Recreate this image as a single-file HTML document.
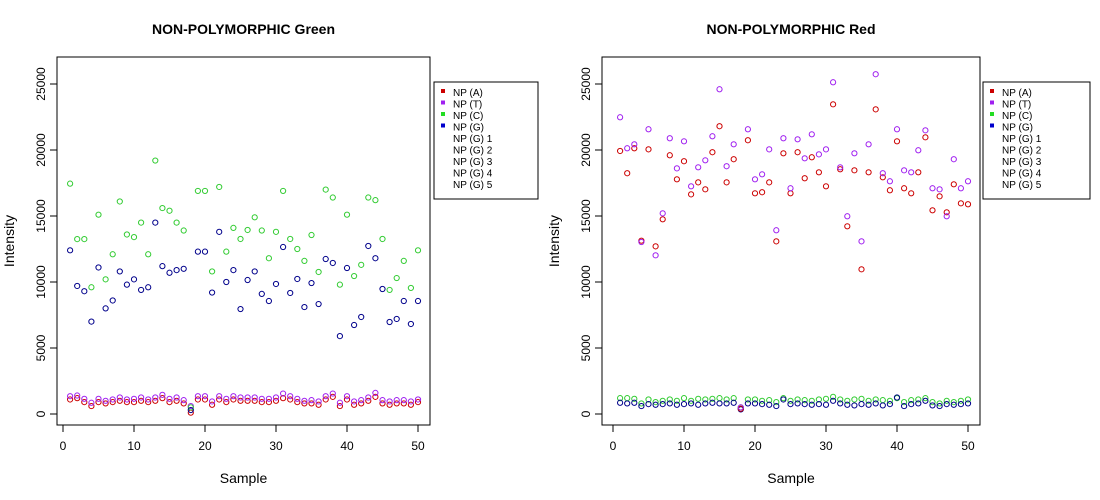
<!DOCTYPE html>
<html><head><meta charset="utf-8">
<style>
body{margin:0;background:#fff;}
svg{display:block;font-family:"Liberation Sans",Arial,sans-serif;}
</style></head>
<body>
<svg id="c" width="1100" height="500" viewBox="0 0 1100 500" xmlns="http://www.w3.org/2000/svg"></svg>
<script>
const samples = Array.from({length:50},(_,i)=>i+1);
const xTicks = [0,10,20,30,40,50];
const yTicks = [0,5000,10000,15000,20000,25000];
const legendLabels = ["NP (A)","NP (T)","NP (C)","NP (G)","NP (G) 1","NP (G) 2","NP (G) 3","NP (G) 4","NP (G) 5"];
const legendColors = ["#cc0000","#a020f0","#22dd22","#0000cc",null,null,null,null,null];

const greenA = [1100,1200,900,600,900,800,900,1000,900,900,1000,900,1000,1200,900,1000,800,100,1100,1100,700,1100,900,1100,1000,1000,1000,900,900,1000,1200,1100,900,800,800,700,1100,1300,600,1100,700,800,1000,1300,800,700,800,800,700,900];
const greenT = [1350,1400,1150,850,1150,1000,1100,1250,1100,1150,1250,1100,1250,1450,1150,1250,1050,600,1350,1350,950,1350,1150,1350,1250,1250,1250,1150,1150,1250,1550,1350,1150,1000,1050,950,1350,1550,850,1350,950,1050,1250,1600,1050,950,1050,1050,950,1100];
const greenC = [17450,13250,13250,9600,15100,10200,12100,16100,13600,13400,14500,12100,19200,15600,15400,14500,13900,500,16900,16900,10800,17200,12300,14100,13260,13940,14900,13900,11800,13800,16900,13260,12500,11600,13560,10760,17000,16400,9800,15100,10450,11300,16400,16200,13260,9400,10300,11600,9550,12400];
const greenG = [12400,9700,9300,7000,11100,8000,8600,10800,9800,10200,9400,9600,14500,11200,10700,10900,11000,300,12300,12300,9200,13800,10000,10900,7950,10150,10800,9100,8560,9850,12650,9170,10230,8100,9920,8330,11740,11440,5900,11060,6740,7350,12730,11800,9470,6970,7200,8560,6820,8560];

const redA = [19925,18240,20130,13130,20050,12700,14750,19600,17780,19150,16640,17550,17020,19830,21800,17550,19300,400,20740,16720,16800,17550,13080,19750,16720,19830,17860,19450,18310,17250,23460,18540,14220,18460,10960,18310,23080,17930,16950,20660,17100,16720,18310,20960,15430,16490,15280,17400,15960,15890];
const redT = [22480,20130,20430,13030,21570,12020,15200,20890,18610,20660,17250,18690,19220,21040,24600,18770,20430,500,21570,17780,18160,20050,13920,20890,17100,20810,19370,21190,19670,20050,25130,18690,14980,19750,13080,20430,25740,18240,17630,21570,18460,18310,19980,21490,17100,17020,14980,19300,17100,17630];
const redC = [1200,1200,1150,800,1100,900,1000,1100,1000,1200,1000,1150,1100,1150,1200,1100,1200,500,1100,1100,1000,1050,900,1200,1000,1100,1050,1000,1100,1150,1300,1100,1000,1100,1150,1000,1100,1050,1000,1200,900,1050,1100,1200,900,800,1000,900,1000,1100];
const redG = [850,800,850,600,750,700,750,800,700,750,800,700,800,850,800,800,850,350,800,800,750,700,600,1100,750,800,750,700,750,700,1000,800,700,650,750,700,800,650,750,1250,600,750,800,1000,650,600,750,700,750,800];

const NS="http://www.w3.org/2000/svg";
const svg=document.getElementById('c');
function el(t,a,p){const e=document.createElementNS(NS,t);for(const k in a)e.setAttribute(k,a[k]);(p||svg).appendChild(e);return e;}

function panel(cfg){
  const g=el('g',{});
  
  
  const L=cfg.left,R=cfg.right,T=57,B=425;
  const x0=cfg.x0, xs=(cfg.x50-cfg.x0)/50;
  const X=v=>x0+v*xs;
  const Y=v=>414-v*66/5000;
  const box=el('rect',{x:L,y:T,width:R-L,height:B-T,fill:'none',stroke:'#000','stroke-width':1},g);
  
  
  const xa=el('g',{},g);
  
  
  el('line',{x1:X(0),x2:X(50),y1:B,y2:B,stroke:'#000'},xa);
  xTicks.forEach(t=>{
    el('line',{x1:X(t),x2:X(t),y1:B,y2:B+7,stroke:'#000'},xa);
    const tx=el('text',{x:X(t),y:B+25,'font-size':12,'text-anchor':'middle'},xa);tx.textContent=t;
    
    
  });
  const ya=el('g',{},g);
  
  
  el('line',{x1:L,x2:L,y1:Y(0),y2:Y(25000),stroke:'#000'},ya);
  yTicks.forEach(t=>{
    el('line',{x1:L,x2:L-7,y1:Y(t),y2:Y(t),stroke:'#000'},ya);
    const tx=el('text',{x:L-12,y:Y(t),'font-size':12,'text-anchor':'middle',transform:`rotate(-90 ${L-12} ${Y(t)})`},ya);tx.textContent=t;
    
    
  });
  const tt=el('text',{x:(L+R)/2,y:34,'font-size':14,'font-weight':'bold','text-anchor':'middle'},g);tt.textContent=cfg.title;
  
  
  const xl=el('text',{x:(L+R)/2,y:483,'font-size':14,'text-anchor':'middle'},g);xl.textContent='Sample';
  
  
  const yx=L-43, yy=(T+B)/2;
  const yl=el('text',{x:yx,y:yy,'font-size':14,'text-anchor':'middle',transform:`rotate(-90 ${yx} ${yy})`},g);yl.textContent='Intensity';
  
  
  cfg.series.forEach(s=>{
    const sg=el('g',{},g);
    
    
    s.vals.forEach((v,i)=>{
      const c=el('circle',{cx:X(samples[i]),cy:Y(v),r:2.6,fill:'none',stroke:s.color,'stroke-width':1},sg);
      
      
    });
  });
  const lg=el('g',{},g);
  
  
  const lx=cfg.legX;
  el('rect',{x:lx,y:82,width:cfg.legW,height:117,fill:'#fff',stroke:'#000'},lg);
  legendLabels.forEach((lab,i)=>{
    const yy2=93+i*11.5;
    const eg=el('g',{},lg);
    
    
    if(legendColors[i]) el('rect',{x:lx+7,y:yy2-4,width:4,height:4,fill:legendColors[i]},eg);
    const t=el('text',{x:lx+19,y:yy2+3,'font-size':10},eg);t.textContent=lab;
  });
}
panel({name:'green-panel',title:'NON-POLYMORPHIC Green',left:57,right:430,x0:63,x50:418,legX:434,legW:104,
  series:[{name:'series-np-a',vals:greenA,color:'#cc0000'},{name:'series-np-t',vals:greenT,color:'#a020f0'},{name:'series-np-c',vals:greenC,color:'#33cc33'},{name:'series-np-g',vals:greenG,color:'#00008b'}]});
panel({name:'red-panel',title:'NON-POLYMORPHIC Red',left:602,right:980,x0:613,x50:968,legX:983,legW:107,
  series:[{name:'series-np-c',vals:redC,color:'#33cc33'},{name:'series-np-g',vals:redG,color:'#00008b'},{name:'series-np-a',vals:redA,color:'#cc0000'},{name:'series-np-t',vals:redT,color:'#a020f0'}]});
</script>
</body></html>
